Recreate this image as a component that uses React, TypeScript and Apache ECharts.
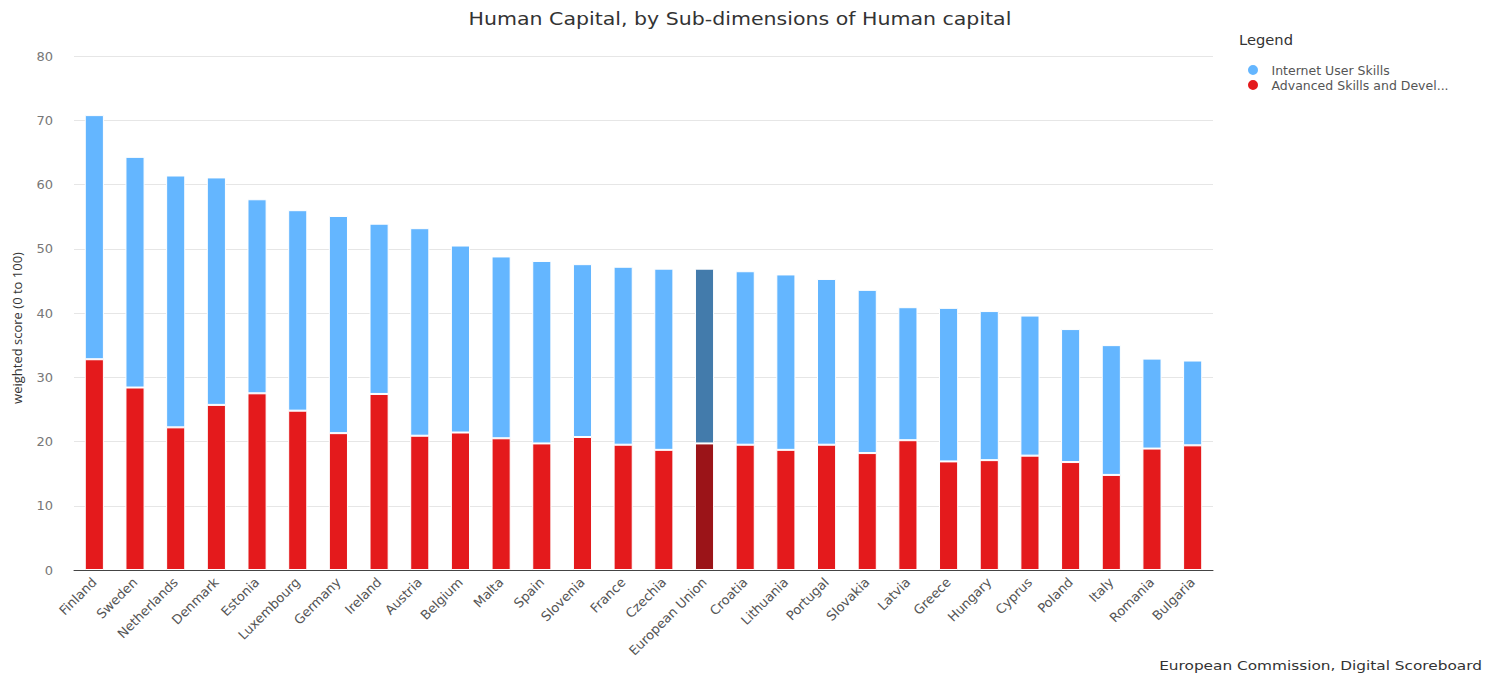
import React, { useEffect, useRef } from "react";
import * as echarts from "echarts";

const categories = ["Finland", "Sweden", "Netherlands", "Denmark", "Estonia", "Luxembourg", "Germany", "Ireland", "Austria", "Belgium", "Malta", "Spain", "Slovenia", "France", "Czechia", "European Union", "Croatia", "Lithuania", "Portugal", "Slovakia", "Latvia", "Greece", "Hungary", "Cyprus", "Poland", "Italy", "Romania", "Bulgaria"];
const advancedSkills = [32.8, 28.4, 22.2, 25.7, 27.5, 24.8, 21.3, 27.4, 20.9, 21.4, 20.5, 19.7, 20.7, 19.5, 18.7, 19.7, 19.5, 18.7, 19.5, 18.2, 20.2, 16.9, 17.1, 17.8, 16.8, 14.8, 18.9, 19.4];
const totals = [70.8, 64.3, 61.4, 61.1, 57.7, 56.0, 55.1, 53.9, 53.2, 50.5, 48.8, 48.1, 47.6, 47.2, 46.9, 46.9, 46.5, 46.0, 45.3, 43.6, 40.9, 40.8, 40.3, 39.6, 37.5, 35.0, 32.9, 32.6];
const internetUserSkills = totals.map((t, i) => +(t - advancedSkills[i]).toFixed(1));
const highlight = "European Union";

const FONT = "DejaVu Sans";
const ELLIPSE = "path://M50,0A50,50,0,1,1,50,100A50,50,0,1,1,50,0Z";

export default function App() {
  const ref = useRef<HTMLDivElement>(null);
  useEffect(() => {
    const chart = echarts.init(ref.current!, null, { renderer: "svg" });
    const mk = (vals: number[], hl: string) =>
      vals.map((v, i) => (categories[i] === highlight ? { value: v, itemStyle: { color: hl } } : v));
    chart.setOption({
      animation: false,
      textStyle: { fontFamily: FONT },
      graphic: [
        {
          type: "text",
          x: 740,
          y: 10,
          scaleX: 1.14,
          style: { text: "Human Capital, by Sub-dimensions of Human capital", fontFamily: FONT, fontSize: 18, fill: "#333", align: "center", verticalAlign: "top" },
        },
        {
          type: "text",
          x: 1239,
          y: 33,
          scaleX: 1.05,
          style: { text: "Legend", fontFamily: FONT, fontSize: 14, fill: "#333", align: "left", verticalAlign: "top" },
        },
        {
          type: "text",
          x: 1482,
          y: 659,
          scaleX: 1.18,
          style: { text: "European Commission, Digital Scoreboard", fontFamily: FONT, fontSize: 13, fill: "#333", align: "right", verticalAlign: "top" },
        },
        {
          type: "text",
          x: 17,
          y: 328,
          rotation: Math.PI / 2,
          style: { text: "weighted score (0 to 100)", fontFamily: "Open Sans", fontSize: 13, fill: "#333", align: "center", verticalAlign: "middle" },
        },
      ],
      legend: {
        orient: "vertical",
        left: 1241,
        top: 58,
        itemGap: 1,
        itemWidth: 15,
        itemHeight: 12,
        icon: ELLIPSE,
        textStyle: { fontFamily: FONT, fontSize: 12.5, lineHeight: 13, color: "#555", padding: [0, 0, 0, 6] },
        formatter: (n: string) => (n.length > 26 ? n.slice(0, 25) + "..." : n),
        data: ["Internet User Skills", "Advanced Skills and Development"],
      },
      grid: { left: 74, right: 283, top: 56, bottom: 107, containLabel: false },
      xAxis: {
        type: "category",
        data: categories,
        axisLine: { lineStyle: { color: "#444", width: 1 } },
        axisTick: { show: false },
        axisLabel: { rotate: 45, interval: 0, color: "#555", fontSize: 13, fontFamily: FONT, margin: 10 },
      },
      yAxis: {
        type: "value",
        min: 0,
        max: 80,
        interval: 10,
        axisLine: { show: false },
        axisTick: { show: false },
        axisLabel: { color: "#777", fontSize: 13, fontFamily: FONT, margin: 21 },
        splitLine: { lineStyle: { color: "#e6e6e6", width: 1 } },
      },
      series: [
        {
          name: "Advanced Skills and Development",
          type: "bar",
          stack: "total",
          barWidth: "47%",
          data: mk(advancedSkills, "#9b1418"),
          itemStyle: { color: "#e41a1c", borderColor: "#ffffff", borderWidth: 1 },
        },
        {
          name: "Internet User Skills",
          type: "bar",
          stack: "total",
          barWidth: "47%",
          data: mk(internetUserSkills, "#437bab"),
          itemStyle: { color: "#64b6ff", borderColor: "#ffffff", borderWidth: 1 },
        },
      ],
    });
    return () => chart.dispose();
  }, []);
  return <div ref={ref} style={{ position: "absolute", left: 0, top: 0, width: 1496, height: 677 }} />;
}
